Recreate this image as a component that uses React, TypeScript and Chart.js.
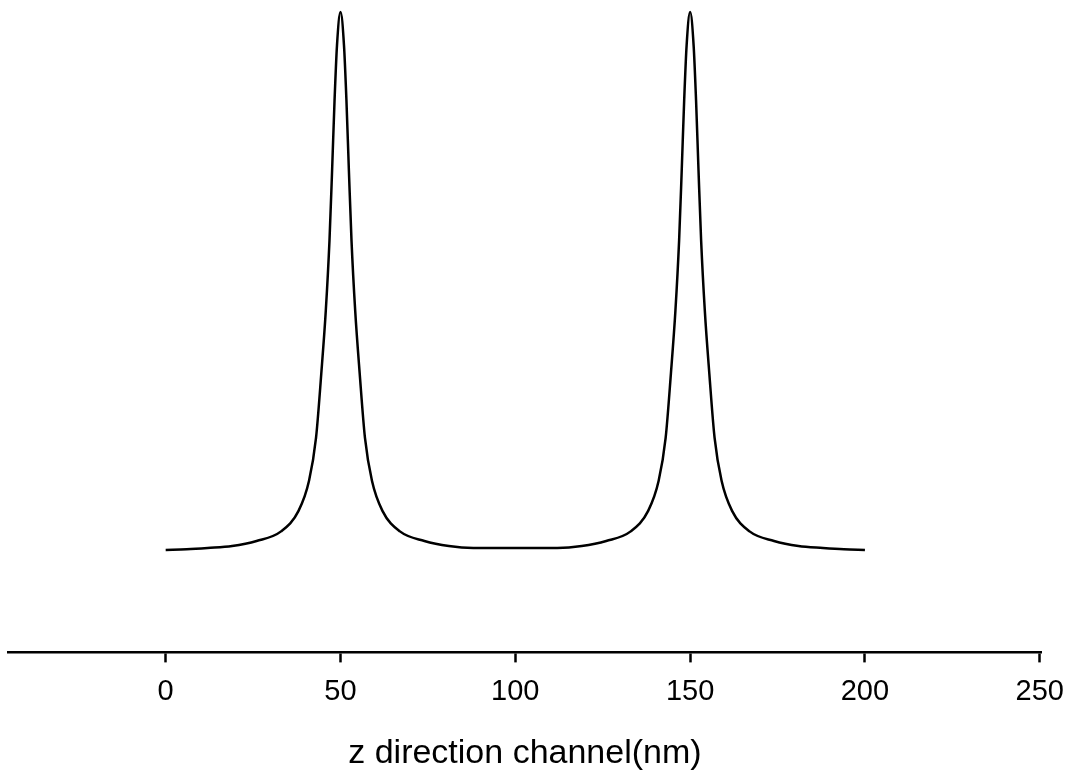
import React, { useEffect, useRef } from "react";
import { Chart, registerables } from "chart.js";

Chart.register(...registerables);

// z position along the channel (nm)
const zPositions: number[] = [
  0, 6, 12, 19, 26, 33, 38, 41, 43, 44.5, 45.8, 46.85, 47.6, 48.3, 49, 50,
  51, 51.7, 52.4, 53.15, 54.2, 55.5, 57, 59, 62, 67, 74, 81, 88, 100,
  112, 119, 126, 133, 138, 141, 143, 144.5, 145.8, 146.85, 147.6, 148.3, 149, 150,
  151, 151.7, 152.4, 153.15, 154.2, 155.5, 157, 159, 162, 167, 174, 181, 188, 194, 200,
];

// relative intensity (arbitrary units, peak = 1)
const intensity: number[] = [
  0.160, 0.161, 0.163, 0.166, 0.174, 0.189, 0.221, 0.268, 0.335, 0.435, 0.534, 0.643, 0.753, 0.862, 0.948, 1.0,
  0.948, 0.862, 0.753, 0.643, 0.534, 0.435, 0.335, 0.268, 0.221, 0.189, 0.174, 0.166, 0.163, 0.163,
  0.163, 0.166, 0.174, 0.189, 0.221, 0.268, 0.335, 0.435, 0.534, 0.643, 0.753, 0.862, 0.948, 1.0,
  0.948, 0.862, 0.753, 0.643, 0.534, 0.435, 0.335, 0.268, 0.221, 0.189, 0.174, 0.166, 0.163, 0.161, 0.160,
];

const xTickValues: number[] = [0, 50, 100, 150, 200, 250];
const xAxisTitle = "z direction channel(nm)";

export default function App() {
  const canvasRef = useRef<HTMLCanvasElement | null>(null);

  useEffect(() => {
    const canvas = canvasRef.current;
    if (!canvas) return;
    const points = zPositions.map((x, i) => ({ x, y: intensity[i] }));
    const chart = new Chart(canvas, {
      type: "line",
      data: {
        datasets: [
          {
            data: points,
            borderColor: "#000000",
            borderWidth: 2.5,
            pointRadius: 0,
            fill: false,
            cubicInterpolationMode: "monotone",
          },
        ],
      },
      options: {
        animation: false,
        responsive: false,
        layout: { padding: { left: 8, right: 33, top: 8, bottom: 4 } },
        plugins: { legend: { display: false }, tooltip: { enabled: false } },
        scales: {
          x: {
            type: "linear",
            min: -45.1,
            max: 250.6,
            afterBuildTicks: (axis: any) => {
              axis.ticks = xTickValues.map((v) => ({ value: v }));
            },
            border: { display: true, color: "#000000", width: 2.5 },
            grid: {
              drawOnChartArea: false,
              drawTicks: true,
              tickLength: 10,
              tickWidth: 2.5,
              tickColor: "#000000",
            },
            ticks: {
              color: "#000000",
              padding: 12,
              maxRotation: 0,
              autoSkip: false,
              font: { family: "'Liberation Sans', Arial, sans-serif", size: 29 },
            },
            title: {
              display: true,
              text: xAxisTitle,
              color: "#000000",
              padding: { top: 12, bottom: 0 },
              font: { family: "'Liberation Sans', Arial, sans-serif", size: 34 },
            },
          },
          y: {
            display: false,
            min: 0,
            max: 1.0063,
          },
        },
      },
    });
    return () => chart.destroy();
  }, []);

  return (
    <div style={{ position: "absolute", left: 0, top: 0, width: 1076, height: 778, background: "#ffffff" }}>
      <canvas ref={canvasRef} width={1076} height={778} style={{ display: "block" }} />
    </div>
  );
}
